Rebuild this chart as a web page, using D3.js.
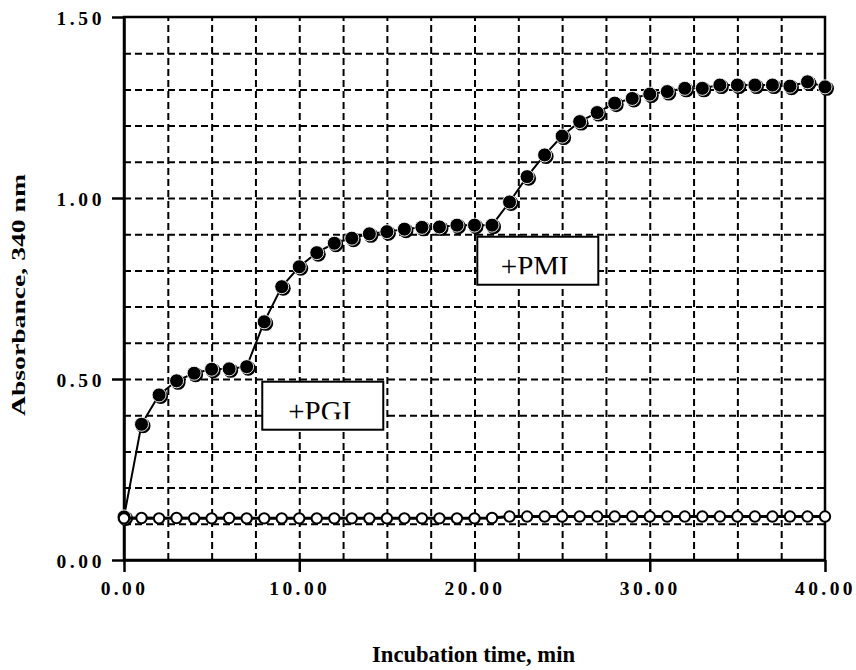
<!DOCTYPE html>
<html>
<head>
<meta charset="utf-8">
<script src="https://cdn.jsdelivr.net/npm/d3@7"></script>
<style>
  body { margin: 0; background: #fff; }
  svg { display: block; }
</style>
</head>
<body>
<svg id="chart" width="856" height="670"></svg>
<script>
// ---- data ----
const timeMin = [0,1,2,3,4,5,6,7,8,9,10,11,12,13,14,15,16,17,18,19,20,
                 21,22,23,24,25,26,27,28,29,30,31,32,33,34,35,36,37,38,39,40];
const absorbanceFilled = [0.119,0.375,0.456,0.495,0.516,0.527,0.528,0.534,0.658,0.755,0.810,
                          0.849,0.875,0.889,0.901,0.907,0.914,0.919,0.920,0.925,0.925,
                          0.925,0.989,1.059,1.119,1.171,1.211,1.236,1.262,1.275,1.287,
                          1.294,1.303,1.303,1.312,1.312,1.312,1.312,1.309,1.321,1.307];
const absorbanceOpen = [0.115,0.116,0.115,0.116,0.115,0.115,0.116,0.115,0.115,0.115,0.115,
                        0.115,0.115,0.115,0.115,0.115,0.115,0.115,0.115,0.115,0.115,
                        0.116,0.120,0.120,0.120,0.120,0.120,0.120,0.120,0.120,0.120,
                        0.120,0.120,0.120,0.120,0.120,0.120,0.120,0.120,0.120,0.120];
const xTickValues = [0, 10, 20, 30, 40];
const yTickValues = [0, 0.5, 1.0, 1.5];
const xGridValues = [2.5,5,7.5,10,12.5,15,17.5,20,22.5,25,27.5,30,32.5,35,37.5];
const yGridValues = [0.1,0.2,0.3,0.4,0.5,0.6,0.7,0.8,0.9,1.0,1.1,1.2,1.3,1.4];
const annotations = [
  { label: "+PGI", x: 7.89, y: 0.4925 },
  { label: "+PMI", x: 20.16, y: 0.893 }
];
const xTitle = "Incubation time, min";
const yTitle = "Absorbance, 340 nm";

// ---- layout ----
const svg = d3.select("#chart");
const mLeft = 124, mRight = 825, mTop = 17, mBottom = 560;
const x = d3.scaleLinear().domain([0, 40]).range([mLeft, mRight]);
const y = d3.scaleLinear().domain([0, 1.5]).range([mBottom, mTop]);
const serif = "Liberation Serif, Times New Roman, serif";

// grid
const gH = svg.append("g").attr("transform", `translate(${mLeft},0)`)
  .call(d3.axisLeft(y).tickValues(yGridValues).tickSize(-(mRight - mLeft)).tickFormat(""));
gH.select(".domain").remove();
gH.selectAll("line").attr("stroke", "#000").attr("stroke-width", 2).attr("stroke-dasharray", "7,4");

const gV = svg.append("g").attr("transform", `translate(0,${mBottom})`)
  .call(d3.axisBottom(x).tickValues(xGridValues).tickSize(-(mBottom - mTop)).tickFormat(""));
gV.select(".domain").remove();
gV.selectAll("line").attr("stroke", "#000").attr("stroke-width", 2).attr("stroke-dasharray", "7,4");

// frame
svg.append("rect").attr("x", mLeft).attr("y", mTop)
  .attr("width", mRight - mLeft).attr("height", mBottom - mTop)
  .attr("fill", "none").attr("stroke", "#000").attr("stroke-width", 2.5);

// axes
const yAxis = svg.append("g").attr("transform", `translate(${mLeft},0)`)
  .call(d3.axisLeft(y).tickValues(yTickValues).tickSize(12).tickSizeOuter(0).tickPadding(10)
        .tickFormat(d3.format(".2f")));
yAxis.attr("font-family", serif);
yAxis.select(".domain").attr("stroke-width", 2.5);
yAxis.selectAll("line").attr("stroke-width", 2.5);
yAxis.selectAll("text").style("font-family", serif).attr("font-weight", "bold")
  .attr("font-size", 19.5).attr("letter-spacing", "3.6px").attr("fill", "#000")
  .attr("dy", "0.4em").attr("x", -19);

const xAxis = svg.append("g").attr("transform", `translate(0,${mBottom})`)
  .call(d3.axisBottom(x).tickValues(xTickValues).tickSize(12).tickSizeOuter(0).tickPadding(10)
        .tickFormat(d3.format(".2f")));
xAxis.attr("font-family", serif);
xAxis.select(".domain").attr("stroke-width", 2.5);
xAxis.selectAll("line").attr("stroke-width", 2.5);
xAxis.selectAll("text").style("font-family", serif).attr("font-weight", "bold")
  .attr("font-size", 19.5).attr("letter-spacing", "3.4px").attr("fill", "#000")
  .attr("dy", 0).attr("y", 35).attr("dx", 0);

// titles
svg.append("text").attr("x", 372).attr("y", 662)
  .style("font-family", serif).attr("font-weight", "bold")
  .attr("font-size", 23).attr("textLength", 203).attr("lengthAdjust", "spacingAndGlyphs")
  .text(xTitle);
svg.append("text").attr("transform", `translate(25,416) rotate(-90)`)
  .style("font-family", serif).attr("font-weight", "bold")
  .attr("font-size", 19.5).attr("textLength", 242).attr("lengthAdjust", "spacingAndGlyphs")
  .text(yTitle);

// series
const filled = timeMin.map((t, i) => ({ t, v: absorbanceFilled[i] }));
const open = timeMin.map((t, i) => ({ t, v: absorbanceOpen[i] }));
const line = d3.line().x(d => x(d.t)).y(d => y(d.v));

svg.append("path").datum(filled).attr("d", line)
  .attr("fill", "none").attr("stroke", "#000").attr("stroke-width", 2);
const fg = svg.append("g");
fg.selectAll("circle.sh").data(filled).join("circle").attr("class", "sh")
  .attr("cx", d => x(d.t) + 1.6).attr("cy", d => y(d.v) + 1.6).attr("r", 7.4)
  .attr("fill", "#000");
fg.selectAll("circle.mk").data(filled).join("circle").attr("class", "mk")
  .attr("cx", d => x(d.t)).attr("cy", d => y(d.v)).attr("r", 7)
  .attr("fill", "#000").attr("stroke", "#fff").attr("stroke-width", 0.9);

svg.append("path").datum(open).attr("d", line)
  .attr("fill", "none").attr("stroke", "#000").attr("stroke-width", 3);
svg.append("g").selectAll("circle").data(open).join("circle")
  .attr("cx", d => x(d.t)).attr("cy", d => y(d.v)).attr("r", 5.2)
  .attr("fill", "#fff").attr("stroke", "#000").attr("stroke-width", 2);

// annotation boxes
const boxW = 121, boxH = 48;
annotations.forEach((a, i) => {
  const bx = x(a.x), by = y(a.y);
  const g = svg.append("g");
  const id = "clip" + i;
  g.append("clipPath").attr("id", id).append("rect")
    .attr("x", bx).attr("y", by).attr("width", boxW).attr("height", 37.5);
  g.append("rect").attr("x", bx).attr("y", by).attr("width", boxW).attr("height", boxH)
    .attr("fill", "#fff").attr("stroke", "#000").attr("stroke-width", 2);
  g.append("text").attr("x", bx + boxW / 2 - 3).attr("y", by + 39)
    .attr("text-anchor", "middle").style("font-family", serif)
    .attr("font-size", 29).attr("clip-path", `url(#${id})`).text(a.label);
});
</script>
</body>
</html>
